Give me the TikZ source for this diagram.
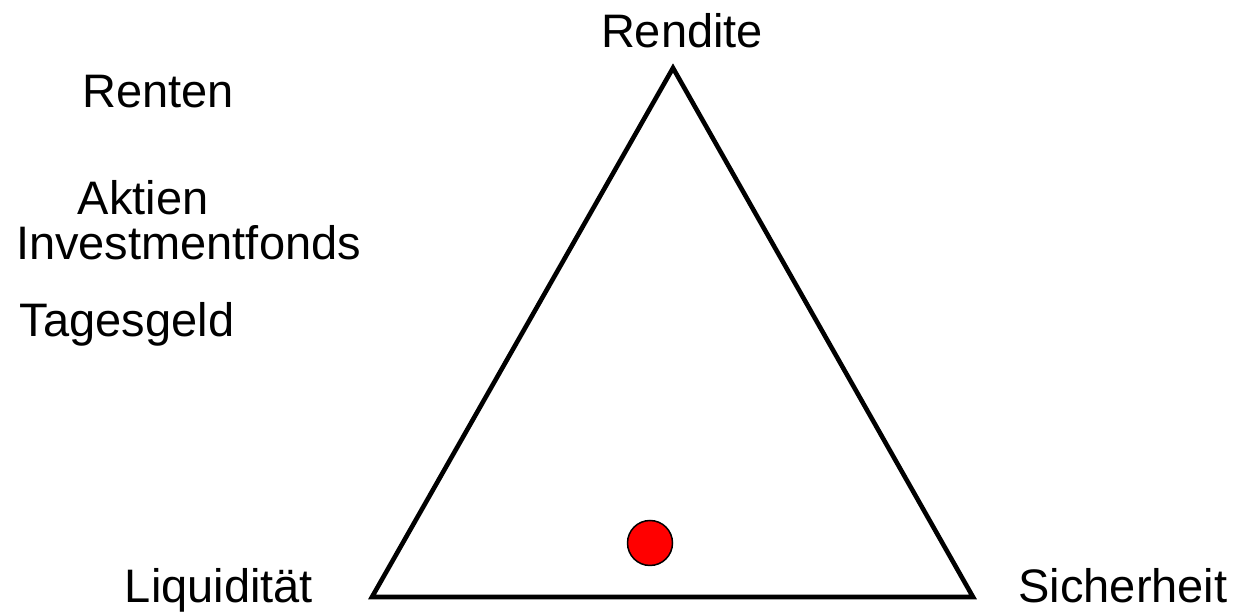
\documentclass[tikz,border=0pt]{standalone}
\usepackage{fontspec}
\setmainfont{Liberation Sans}
\begin{document}
\begin{tikzpicture}[x=1pt,y=1pt,
  lbl/.style={anchor=base,inner sep=0pt,font=\fontsize{47}{50}\selectfont},
  tri/.style={draw=black,line width=4.6pt,line join=miter},
  dot/.style={circle,draw=black,fill=red,line width=1.5pt,minimum size=45pt,inner sep=0pt}]
\useasboundingbox (0,0) rectangle (1240,615);
\coordinate (top) at (673,547);
\coordinate (bl) at (372,18);
\coordinate (br) at (973,18);
\draw[tri] (top) -- (bl) -- (br) -- cycle;
\node[dot] (pt) at (650,72) {};
\node[lbl] (rendite) at (682,567) {Rendite};
\node[lbl] (renten) at (158,507) {Renten};
\node[lbl] (aktien) at (143,400) {Aktien};
\node[lbl] (invest) at (188.5,355) {Investmentfonds};
\node[lbl] (tages) at (127,278) {Tagesgeld};
\node[lbl] (liq) at (219,12) {Liquidität};
\node[lbl] (sich) at (1123,12) {Sicherheit};
\end{tikzpicture}
\end{document}
